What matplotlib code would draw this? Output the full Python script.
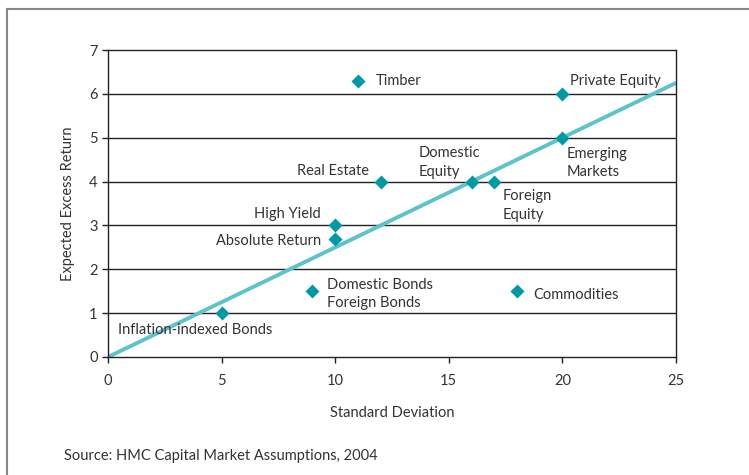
import matplotlib
matplotlib.use("Agg")
import matplotlib.pyplot as plt
from matplotlib.lines import Line2D

plt.rcParams['font.family'] = ['Lato', 'DejaVu Sans']

# asset classes: standard deviation vs expected excess return
names = ['Timber', 'Private Equity', 'Emerging\nMarkets', 'Domestic\nEquity',
         'Foreign\nEquity', 'Real Estate', 'High Yield', 'Absolute Return',
         'Domestic Bonds\nForeign Bonds', 'Commodities', 'Inflation-indexed Bonds']
std_dev = [11, 20, 20, 16, 17, 12, 10, 10, 9, 18, 5]
exp_ret = [6.3, 6.0, 5.0, 4.0, 4.0, 4.0, 3.0, 2.7, 1.5, 1.5, 1.0]

# label offsets in pixels from the marker, plus alignment
offsets = [(18, 0, 'left', 'center'),
           (8, 13, 'left', 'center'),
           (4, -25, 'left', 'center'),
           (-53, 19, 'left', 'center'),
           (8, -24, 'left', 'center'),
           (-12, 11, 'right', 'center'),
           (-14, 11, 'right', 'center'),
           (-14, -2, 'right', 'center'),
           (15, -3, 'left', 'center'),
           (16, -4, 'left', 'center'),
           (-104, -17, 'left', 'center')]

line_x = [0, 25]
line_y = [0, 6.25]

teal = '#0099a6'
light = '#5cc3cb'
txt = '#333333'
fs = 10.5

fig = plt.figure(figsize=(7.49, 4.75), dpi=100)
ax = fig.add_axes([108/749, 1-357/475, (676-108)/749, (357-50)/475])

for y in range(1, 7):
    ax.axhline(y, color='#222222', lw=1.0, zorder=1)
ax.plot(line_x, line_y, color=light, lw=2.8, zorder=2, solid_capstyle='butt')
ax.plot(std_dev, exp_ret, 'D', color=teal, ms=7.5, mec='none', zorder=3, clip_on=False)

for n, x, y, (dx, dy, ha, va) in zip(names, std_dev, exp_ret, offsets):
    ax.annotate(n, (x, y), xytext=(dx, dy), textcoords='offset pixels',
                ha=ha, va=va, fontsize=fs, color=txt, linespacing=1.4)

ax.set_xlim(0, 25)
ax.set_ylim(0, 7)
ax.set_xticks([0, 5, 10, 15, 20, 25])
ax.set_yticks(range(8))
for s in ax.spines.values():
    s.set_color('#222222')
    s.set_linewidth(1.0)
ax.tick_params(colors='#222222', labelcolor=txt, labelsize=fs, length=4, width=1.0)
ax.tick_params(axis='x', pad=8)
ax.set_xlabel('Standard Deviation', fontsize=fs, color=txt, labelpad=13)
ax.set_ylabel('Expected Excess Return', fontsize=fs, color=txt, labelpad=10)

fig.text(64/749, 1-456/475, 'Source: HMC Capital Market Assumptions, 2004',
         fontsize=fs, color=txt, va='center')

# frame around the exhibit (top and left edges)
fig.add_artist(Line2D([7/749, 1], [1-9/475, 1-9/475], color='#888888', lw=1.5,
                      transform=fig.transFigure))
fig.add_artist(Line2D([7/749, 7/749], [0, 1-9/475], color='#888888', lw=1.5,
                      transform=fig.transFigure))

fig.savefig('out.png', dpi=100)
